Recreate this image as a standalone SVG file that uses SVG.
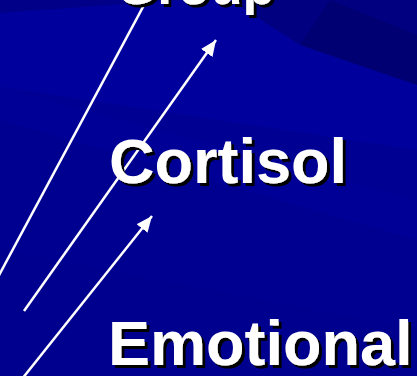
<svg xmlns="http://www.w3.org/2000/svg" width="417" height="376" viewBox="0 0 417 376">
  <defs>
    <filter id="shadow" x="-10%" y="-20%" width="130%" height="160%">
      <feDropShadow dx="3" dy="3" stdDeviation="0" flood-color="#000000" flood-opacity="1"/>
    </filter>
    <marker id="arrow" markerUnits="userSpaceOnUse" markerWidth="18" markerHeight="14" refX="16" refY="7" orient="auto">
      <polygon points="0,0 16,7 0,14" fill="#ffffff"/>
    </marker>
    <style>
      .lbl { font-family: "Liberation Sans", Arial, sans-serif; font-weight: bold; font-size: 63px; fill: #ffffff; filter: url(#shadow); }
      .conn { stroke: #ffffff; stroke-width: 2.5; fill: none; }
    </style>
  </defs>

  <!-- background -->
  <rect x="0" y="0" width="417" height="376" fill="#000092"/>
  <polygon points="0,0 417,0 417,115 0,0" fill="#00008a"/>
  <polygon points="0,0 180,0 0,13" fill="#000088"/>
  <polygon points="0,13 180,0 417,0 417,150 0,87" fill="#00009c"/>
  <polygon points="230,0 417,0 417,45" fill="#000080"/>
  <polygon points="300,0 330,0 417,35 417,85 300,45" fill="#000072"/>
  <polygon points="230,0 330,0 300,45" fill="#000080"/>
  <polygon points="0,87 417,200 417,376 0,376" fill="#000090"/>
  <polygon points="0,87 417,200 417,240 0,120" fill="#000096"/>
  <polygon points="0,250 417,330 417,376 0,376" fill="#00008e"/>

  <g id="connectors">
    <line class="conn" x1="151" y1="-8" x2="-3" y2="279"/>
    <line class="conn" x1="24" y1="311" x2="216" y2="40" marker-end="url(#arrow)"/>
    <line class="conn" x1="22" y1="379" x2="152" y2="216" marker-end="url(#arrow)"/>
  </g>

  <g id="group">
    <text class="lbl" x="116" y="4" style="font-size:53px">Group</text>
  </g>
  <g id="cortisol">
    <text class="lbl" x="109" y="183">Cortisol</text>
  </g>
  <g id="emotional">
    <text class="lbl" x="108" y="365">Emotional</text>
  </g>
</svg>
